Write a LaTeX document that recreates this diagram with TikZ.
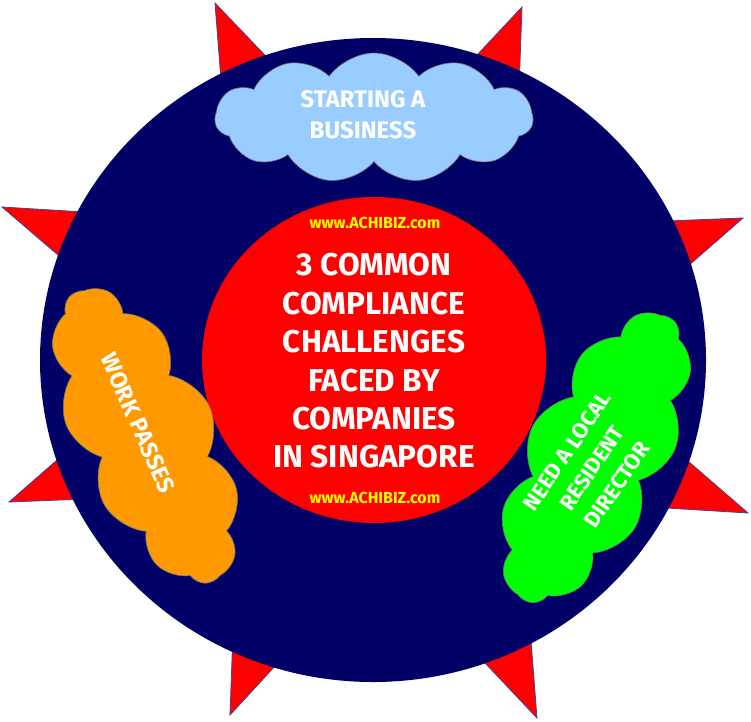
\documentclass[tikz,border=0pt]{standalone}
\usepackage{fontspec}
\setmainfont{Fira Sans}
\usepackage{tikz}
\usetikzlibrary{shapes.symbols,shapes.geometric}
\definecolor{navy}{HTML}{000066}
\definecolor{spikered}{HTML}{FF0000}
\definecolor{spikeedge}{HTML}{4B3F8F}
\definecolor{skyblue}{HTML}{99CCFF}
\definecolor{workorange}{HTML}{FF9900}
\definecolor{lime}{HTML}{00FF00}
\definecolor{urlyellow}{HTML}{FFFF00}

\begin{document}
\begin{tikzpicture}[x=1pt,y=-1pt,
  puff/.style={shape=cloud, cloud puffs=11, cloud puff arc=110, cloud ignores aspect, draw=black!55, line width=0.6pt, inner sep=0pt},
  caption/.style={text=white, align=center, inner sep=0pt, font=\bfseries\fontsize{24}{31}\selectfont},
  url/.style={text=urlyellow, inner sep=0pt, font=\bfseries\fontsize{16}{18}\selectfont}]
  \useasboundingbox (0,0) rectangle (751,721);
  \draw[spikeedge, fill=spikered, line width=0.8] (576,364) -- (748,513) -- (520,499) -- (537,718)
    -- (380,552) -- (230,715) -- (238,493) -- (9,502) -- (176,356) -- (2,207) -- (232,221)
    -- (215,3) -- (372,167) -- (522,7) -- (514,227) -- (743,218) -- cycle;
  \fill[navy] (373,360) ellipse [x radius=333, y radius=322];
  \node[ellipse, fill=spikered, minimum width=344pt, minimum height=326pt, inner sep=0pt] (hub) at (374,360) {};
  \node[caption, font=\bfseries\fontsize{31.5}{38.4}\selectfont] (title) at (374,361)
    {3 COMMON\\COMPLIANCE\\CHALLENGES\\FACED BY\\COMPANIES\\IN SINGAPORE};
  \node[url] (urltop) at (375,223) {www.ACHIBIZ.com};
  \node[url] (urlbottom) at (375,498) {www.ACHIBIZ.com};
  \node[puff, fill=skyblue, minimum width=318pt, minimum height=130pt] (start) at (374,118) {};
  \node[caption] (startlabel) at (363,115) {STARTING A\\BUSINESS};
  \node[puff, fill=workorange, minimum width=320pt, minimum height=140pt, rotate=-64.5] (work) at (146,436) {};
  \node[caption, font=\bfseries\fontsize{23.5}{31}\selectfont, rotate=-66] (worklabel) at (138,423) {WORK PASSES};
  \node[puff, fill=lime, minimum width=318pt, minimum height=140pt, rotate=63] (director) at (595,458) {};
  \node[caption, rotate=56, font=\bfseries\fontsize{22}{30}\selectfont] (directorlabel) at (592,468)
    {NEED A LOCAL\\RESIDENT\\DIRECTOR};
\end{tikzpicture}
\end{document}
